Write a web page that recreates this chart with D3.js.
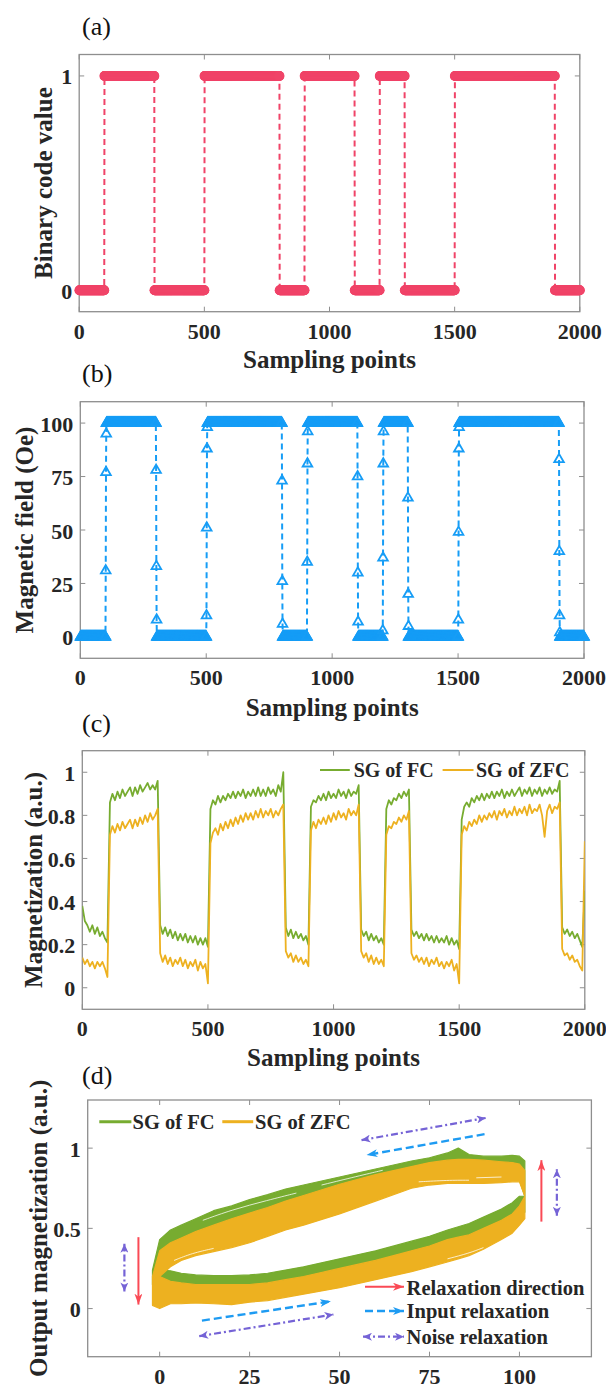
<!DOCTYPE html>
<html>
<head>
<meta charset="utf-8">
<script src="https://cdn.jsdelivr.net/npm/d3@7"></script>
<style>
  body { margin: 0; background: #fff; }
  svg { display: block; }
</style>
</head>
<body>
<svg id="fig" width="606" height="1390" font-family="'Liberation Serif', 'Times New Roman', Times, serif"></svg>
<script>
// ---------------- data ----------------
// (a) binary input code, one bit per block of 100 sampling points
const codeBits = [0,1,1,0,0,1,1,1,0,1,1,0,1,0,0,1,1,1,1,0];
const blockSize = 100;

// (b) applied field: plateau levels and the ramp samples at each switching event
const fieldHigh = 100;
const fieldLow = 0;
const fieldRamps = [
  [31, 77, 95],
  [78, 33, 8],
  [10, 51, 88, 98],
  [73, 26, 6],
  [35, 81, 96],
  [75, 30, 7],
  [3, 37, 81, 96],
  [65, 20, 5],
  [8, 49, 88, 98],
  [83, 40, 10, 2]
];

// (c) magnetization traces, one value every 10 sampling points (0..2000)
const magStep = 10;
const magFC = [
  0.38,0.31,0.29,0.26,0.29,0.25,0.28,0.24,0.26,0.23,0.21,
  0.86,0.90,0.87,0.91,0.88,0.92,0.89,0.91,0.93,0.89,0.93,0.90,0.94,0.91,0.93,0.95,0.92,0.94,0.92,0.96,
  0.29,0.25,0.28,0.24,0.27,0.23,0.26,0.22,0.25,0.22,0.25,0.21,0.24,0.21,0.24,0.20,0.23,0.20,0.23,0.19,
  0.83,0.87,0.85,0.89,0.86,0.89,0.87,0.90,0.88,0.91,0.88,0.91,0.89,0.92,0.88,0.91,0.89,0.92,0.89,0.93,
  0.89,0.92,0.89,0.93,0.90,0.92,0.89,0.94,0.91,1.00,
  0.28,0.24,0.27,0.23,0.26,0.23,0.25,0.22,0.24,0.20,
  0.84,0.87,0.86,0.89,0.87,0.90,0.87,0.91,0.88,0.90,0.88,0.92,0.89,0.91,0.88,0.92,0.89,0.91,0.90,0.94,
  0.27,0.24,0.26,0.22,0.25,0.22,0.24,0.21,0.23,0.20,
  0.83,0.87,0.85,0.88,0.87,0.90,0.88,0.91,0.89,0.92,
  0.27,0.24,0.26,0.23,0.25,0.22,0.25,0.22,0.24,0.21,0.24,0.21,0.23,0.21,0.24,0.20,0.23,0.20,0.22,0.18,
  0.78,0.84,0.86,0.84,0.88,0.86,0.89,0.87,0.90,0.87,0.90,0.88,0.91,0.88,0.91,0.89,0.92,0.88,0.91,0.89,
  0.92,0.89,0.91,0.93,0.89,0.92,0.90,0.93,0.89,0.92,0.90,0.93,0.89,0.92,0.90,0.93,0.90,0.92,0.91,0.96,
  0.28,0.25,0.27,0.24,0.26,0.23,0.25,0.22,0.19,0.45
];
const magZFC = [
  0.14,0.11,0.13,0.10,0.12,0.09,0.12,0.10,0.12,0.09,0.05,
  0.71,0.75,0.72,0.76,0.73,0.77,0.74,0.76,0.78,0.74,0.78,0.75,0.79,0.76,0.80,0.77,0.81,0.78,0.80,0.83,
  0.16,0.12,0.15,0.11,0.14,0.10,0.13,0.11,0.14,0.10,0.13,0.09,0.12,0.10,0.13,0.08,0.12,0.09,0.11,0.02,
  0.67,0.72,0.74,0.71,0.76,0.73,0.77,0.74,0.78,0.75,0.79,0.76,0.80,0.77,0.81,0.78,0.81,0.78,0.82,0.79,
  0.83,0.79,0.82,0.80,0.83,0.79,0.82,0.80,0.83,0.85,
  0.17,0.14,0.16,0.12,0.15,0.12,0.14,0.11,0.13,0.10,
  0.73,0.77,0.74,0.78,0.76,0.79,0.76,0.80,0.77,0.81,0.78,0.82,0.79,0.81,0.78,0.83,0.80,0.82,0.80,0.85,
  0.17,0.14,0.16,0.12,0.15,0.11,0.14,0.11,0.13,0.10,
  0.71,0.75,0.74,0.77,0.76,0.79,0.77,0.80,0.78,0.82,
  0.16,0.13,0.15,0.12,0.14,0.11,0.14,0.10,0.13,0.11,0.14,0.10,0.12,0.09,0.12,0.10,0.13,0.08,0.11,0.02,
  0.71,0.75,0.73,0.77,0.75,0.78,0.76,0.80,0.77,0.80,0.78,0.81,0.79,0.82,0.78,0.82,0.80,0.83,0.79,0.82,
  0.80,0.84,0.80,0.83,0.81,0.84,0.80,0.85,0.81,0.83,0.82,0.85,0.80,0.70,0.82,0.85,0.81,0.84,0.83,0.86,
  0.18,0.15,0.16,0.13,0.15,0.12,0.13,0.10,0.08,0.68
];

// (d) envelopes of the output-vs-input loops (upper/lower branch edges)
const loopField = [-2, 0, 3, 6, 10, 15, 20, 25, 30, 35, 40, 50, 60, 70, 75, 80, 83, 86, 90, 95, 98, 100, 101.5];
const fcUpperOuter = [0.24,0.43,0.49,0.52,0.56,0.61,0.64,0.68,0.71,0.745,0.77,0.82,0.87,0.92,0.94,0.97,1.00,0.96,0.95,0.95,0.955,0.95,0.92];
const fcUpperInner = [0.22,0.24,0.30,0.34,0.37,0.40,0.42,0.45,0.49,0.52,0.55,0.62,0.70,0.78,0.80,0.81,0.81,0.81,0.81,0.81,0.81,0.80,0.70];
const fcLowerInner = [0.22,0.24,0.235,0.22,0.21,0.205,0.205,0.21,0.22,0.24,0.26,0.31,0.36,0.42,0.45,0.49,0.51,0.53,0.57,0.62,0.66,0.70,0.70];
const fcLowerOuter = [0.15,0.14,0.13,0.13,0.13,0.13,0.13,0.13,0.14,0.16,0.19,0.24,0.29,0.34,0.37,0.40,0.42,0.44,0.47,0.52,0.55,0.58,0.60];
const zfcUpperOuter = [0.20,0.36,0.41,0.44,0.48,0.52,0.56,0.595,0.63,0.67,0.705,0.775,0.835,0.885,0.91,0.925,0.93,0.93,0.925,0.915,0.91,0.90,0.86];
const zfcUpperInner = [0.18,0.20,0.26,0.30,0.33,0.355,0.38,0.41,0.45,0.49,0.52,0.59,0.67,0.75,0.77,0.78,0.78,0.78,0.78,0.785,0.79,0.79,0.70];
const zfcLowerInner = [0.18,0.20,0.17,0.16,0.15,0.15,0.15,0.15,0.16,0.18,0.20,0.25,0.30,0.36,0.39,0.43,0.445,0.46,0.50,0.55,0.59,0.64,0.70];
const zfcLowerOuter = [0.02,0.00,0.03,0.03,0.035,0.03,0.025,0.04,0.05,0.07,0.09,0.13,0.18,0.23,0.26,0.29,0.31,0.33,0.37,0.43,0.47,0.52,0.56];
// thin gaps between individual cycles inside the bands
const loopGaps = [
  [[12, 0.55], [20, 0.615], [30, 0.675], [38, 0.72]],
  [[45, 0.77], [55, 0.825], [62, 0.862]],
  [[72, 0.79], [80, 0.80], [86, 0.80]],
  [[88, 0.815], [95, 0.82]],
  [[80, 0.31], [86, 0.345], [90, 0.38]],
  [[4, 0.30], [9, 0.345], [15, 0.375]]
];

// (d) annotation arrows [x1, y1, x2, y2] in data units
const relaxArrows = [[106.1, 0.542, 106.1, 0.925], [-5.9, 0.445, -5.9, 0.025]];
const inputArrows = [[90.3, 1.087, 57.5, 0.957], [11.75, -0.075, 47.6, 0.045]];
const noiseArrows = [[56.1, 1.05, 90.6, 1.188], [110.4, 0.578, 110.4, 0.868], [-9.8, 0.107, -9.8, 0.404], [11.0, -0.172, 48.3, -0.037]];

// ticks
const timeTicks = [0, 500, 1000, 1500, 2000];
const codeTicks = [0, 1];
const fieldTicks = [0, 25, 50, 75, 100];
const magTicks = [0, 0.2, 0.4, 0.6, 0.8, 1];
const loopXTicks = [0, 25, 50, 75, 100];
const loopYTicks = [0, 0.5, 1];

const seriesNames = ["SG of FC", "SG of ZFC"];
const annotationNames = ["Relaxation direction", "Input relaxation", "Noise relaxation"];

// ---------------- styling ----------------
const C = {
  code: "#F04468",
  field: "#169DF6",
  fc: "#77AC30",
  zfc: "#EDB120",
  red: "#FA4A55",
  blue: "#1E9BF2",
  purple: "#7563D6",
  axis: "#8e8e8e",
  text: "#262626"
};
const FONT = "'Liberation Serif', 'Times New Roman', Times, serif";

const svg = d3.select("#fig");
const defs = svg.append("defs");

function txt(sel) {
  return sel.attr("font-family", FONT);
}

function arrowHead(id, color, len, wid) {
  defs.append("marker")
    .attr("id", id)
    .attr("viewBox", `0 0 ${len} ${wid}`)
    .attr("refX", len).attr("refY", wid / 2)
    .attr("markerWidth", len).attr("markerHeight", wid)
    .attr("markerUnits", "userSpaceOnUse")
    .attr("orient", "auto-start-reverse")
    .append("path")
    .attr("d", `M0,0 L${len},${wid / 2} L0,${wid} L${len * 0.28},${wid / 2} Z`)
    .attr("fill", color);
}
arrowHead("hRed", C.red, 11, 8);
arrowHead("hBlue", C.blue, 11, 8);
arrowHead("hPurple", C.purple, 9, 8);

// frame with box, inward ticks on all four sides and bold tick labels
function frame(p, xs, ys, xt, yt, yfmt) {
  const g = svg.append("g");
  g.append("rect")
    .attr("x", p.l).attr("y", p.t)
    .attr("width", p.r - p.l).attr("height", p.b - p.t)
    .attr("fill", "none").attr("stroke", C.axis).attr("stroke-width", 1.3);
  const tl = 5;
  xt.forEach(v => {
    const x = xs(v);
    g.append("line").attr("x1", x).attr("x2", x).attr("y1", p.b).attr("y2", p.b - tl).attr("stroke", C.axis);
    g.append("line").attr("x1", x).attr("x2", x).attr("y1", p.t).attr("y2", p.t + tl).attr("stroke", C.axis);
    txt(g.append("text")).attr("x", x).attr("y", p.b + 27)
      .attr("text-anchor", "middle").attr("font-size", 22).attr("font-weight", "bold")
      .attr("fill", C.text).text(v);
  });
  yt.forEach(v => {
    const y = ys(v);
    g.append("line").attr("x1", p.l).attr("x2", p.l + tl).attr("y1", y).attr("y2", y).attr("stroke", C.axis);
    g.append("line").attr("x1", p.r).attr("x2", p.r - tl).attr("y1", y).attr("y2", y).attr("stroke", C.axis);
    txt(g.append("text")).attr("x", p.l - 7).attr("y", y + 8.5)
      .attr("text-anchor", "end").attr("font-size", 22).attr("font-weight", "bold")
      .attr("fill", C.text).text(yfmt(v));
  });
  return g;
}

function yTitle(p, x, label) {
  txt(svg.append("text"))
    .attr("transform", `translate(${x},${(p.t + p.b) / 2}) rotate(-90)`)
    .attr("text-anchor", "middle").attr("font-size", 25).attr("font-weight", "bold")
    .attr("fill", C.text).text(label);
}
function xTitle(p, y, label) {
  txt(svg.append("text"))
    .attr("x", (p.l + p.r) / 2).attr("y", y)
    .attr("text-anchor", "middle").attr("font-size", 25).attr("font-weight", "bold")
    .attr("fill", C.text).text(label);
}
function panelTag(x, y, label) {
  txt(svg.append("text")).attr("x", x).attr("y", y)
    .attr("font-size", 26).attr("fill", "#111").text(label);
}
function clipFor(id, p) {
  defs.append("clipPath").attr("id", id).append("rect")
    .attr("x", p.l).attr("y", p.t).attr("width", p.r - p.l).attr("height", p.b - p.t);
  return `url(#${id})`;
}

const num = v => String(+v.toFixed(2));

// ---------------- derived sample series ----------------
const sampleIdx = d3.range(1, codeBits.length * blockSize + 1);
const codeSeries = sampleIdx.map(i => ({ x: i, y: codeBits[Math.floor((i - 1) / blockSize)] }));

const fieldSeries = [];
{
  let r = 0;
  codeBits.forEach((b, k) => {
    const level = b ? fieldHigh : fieldLow;
    const ramp = (k > 0 && b !== codeBits[k - 1]) ? fieldRamps[r++] : [];
    for (let j = 0; j < blockSize; j++) {
      fieldSeries.push({ x: k * blockSize + j + 1, y: j < ramp.length ? ramp[j] : level });
    }
  });
}

// ---------------- (a) ----------------
const PA = { l: 79.2, r: 579.8, t: 54.5, b: 311.7 };
const xA = d3.scaleLinear().domain([0, 2000]).range([PA.l, PA.r]);
const yA = d3.scaleLinear().domain([-0.1, 1.1]).range([PA.b, PA.t]);
frame(PA, xA, yA, timeTicks, codeTicks, num);
svg.append("path").datum(codeSeries)
  .attr("d", d3.line().x(d => xA(d.x)).y(d => yA(d.y)))
  .attr("fill", "none").attr("stroke", C.code).attr("stroke-width", 2)
  .attr("stroke-dasharray", "6,4");
svg.append("g").selectAll("circle").data(codeSeries).join("circle")
  .attr("cx", d => xA(d.x)).attr("cy", d => yA(d.y)).attr("r", 5)
  .attr("fill", C.code);
yTitle(PA, 52, "Binary code value");
xTitle(PA, 368, "Sampling points");
panelTag(82, 35, "(a)");

// ---------------- (b) ----------------
const PB = { l: 80.3, r: 584, t: 401.7, b: 658.3 };
const xB = d3.scaleLinear().domain([0, 2000]).range([PB.l, PB.r]);
const yB = d3.scaleLinear().domain([-10, 110]).range([PB.b, PB.t]);
frame(PB, xB, yB, timeTicks, fieldTicks, num);
svg.append("path").datum(fieldSeries)
  .attr("d", d3.line().x(d => xB(d.x)).y(d => yB(d.y)))
  .attr("fill", "none").attr("stroke", C.field).attr("stroke-width", 2)
  .attr("stroke-dasharray", "6,4");
const tri = d3.symbol().type(d3.symbolTriangle).size(40)();
svg.append("g").selectAll("path").data(fieldSeries).join("path")
  .attr("transform", d => `translate(${xB(d.x)},${yB(d.y)})`)
  .attr("d", tri).attr("fill", "none").attr("stroke", C.field).attr("stroke-width", 1.8);
yTitle(PB, 33, "Magnetic field (Oe)");
xTitle(PB, 716, "Sampling points");
panelTag(82, 382, "(b)");

// ---------------- (c) ----------------
const PC = { l: 82.3, r: 584.8, t: 750.7, b: 1009.3 };
const xC = d3.scaleLinear().domain([0, 2000]).range([PC.l, PC.r]);
const yC = d3.scaleLinear().domain([-0.1, 1.1]).range([PC.b, PC.t]);
frame(PC, xC, yC, timeTicks, magTicks, num);
const clipC = clipFor("clipC", PC);
const magLine = d3.line().x((d, i) => xC(i * magStep)).y(d => yC(d));
[[magFC, C.fc], [magZFC, C.zfc]].forEach(([s, col]) => {
  svg.append("path").datum(s).attr("clip-path", clipC)
    .attr("d", magLine).attr("fill", "none").attr("stroke", col)
    .attr("stroke-width", 1.8).attr("stroke-linejoin", "round");
});
// legend
[[320, 349.8, 353.7, C.fc, seriesNames[0]], [442.6, 473.5, 476, C.zfc, seriesNames[1]]].forEach(([a, b, t, col, name]) => {
  svg.append("line").attr("x1", a).attr("x2", b).attr("y1", 770).attr("y2", 770)
    .attr("stroke", col).attr("stroke-width", 2);
  txt(svg.append("text")).attr("x", t).attr("y", 777).attr("font-size", 20).attr("font-weight", "bold")
    .attr("fill", C.text).text(name);
});
yTitle(PC, 42, "Magnetization (a.u.)");
xTitle(PC, 1066, "Sampling points");
panelTag(82, 732, "(c)");

// ---------------- (d) ----------------
const PD = { l: 87.7, r: 591.4, t: 1100, b: 1356.7 };
const xD = d3.scaleLinear().domain([-20, 120]).range([PD.l, PD.r]);
const yD = d3.scaleLinear().domain([-0.3, 1.3]).range([PD.b, PD.t]);
frame(PD, xD, yD, loopXTicks, loopYTicks, num);
const clipD = clipFor("clipD", PD);

const ptLine = d3.line().x(d => xD(d[0])).y(d => yD(d[1]));
function ringPath(upperOuter, lowerOuter, upperInner, lowerInner) {
  const outer = loopField.map((x, i) => [x, upperOuter[i]])
    .concat(loopField.map((x, i) => [x, lowerOuter[i]]).reverse());
  const inner = loopField.map((x, i) => [x, upperInner[i]])
    .concat(loopField.map((x, i) => [x, lowerInner[i]]).reverse());
  return ptLine(outer) + "Z" + ptLine(inner) + "Z";
}
const loopG = svg.append("g").attr("clip-path", clipD);
[[fcUpperOuter, fcLowerOuter, fcUpperInner, fcLowerInner, C.fc],
 [zfcUpperOuter, zfcLowerOuter, zfcUpperInner, zfcLowerInner, C.zfc]].forEach(([uo, lo, ui, li, col]) => {
  loopG.append("path")
    .attr("d", ringPath(uo, lo, ui, li))
    .attr("fill", col).attr("fill-rule", "evenodd")
    .attr("stroke", col).attr("stroke-width", 1.2).attr("stroke-linejoin", "round");
});
loopG.selectAll("path.gap").data(loopGaps).join("path").attr("class", "gap")
  .attr("d", d3.line().x(d => xD(d[0])).y(d => yD(d[1])).curve(d3.curveBasis))
  .attr("fill", "none").attr("stroke", "#fff").attr("stroke-width", 0.9).attr("stroke-opacity", 0.85);

// relaxation arrows
const annG = svg.append("g");
function drawArrows(list, col, dash, width, head, both) {
  list.forEach(a => {
    const l = annG.append("line")
      .attr("x1", xD(a[0])).attr("y1", yD(a[1]))
      .attr("x2", xD(a[2])).attr("y2", yD(a[3]))
      .attr("stroke", col).attr("stroke-width", width)
      .attr("marker-end", `url(#${head})`);
    if (dash) l.attr("stroke-dasharray", dash);
    if (both) l.attr("marker-start", `url(#${head})`);
  });
}
drawArrows(relaxArrows, C.red, null, 2, "hRed", false);
drawArrows(inputArrows, C.blue, "8,4", 2.4, "hBlue", false);
drawArrows(noiseArrows, C.purple, "7,3,2,3", 2.2, "hPurple", true);

// series legend
[[99.3, 131.4, 132.6, C.fc, seriesNames[0]], [222.3, 253.2, 255, C.zfc, seriesNames[1]]].forEach(([a, b, t, col, name]) => {
  svg.append("line").attr("x1", a).attr("x2", b).attr("y1", 1121.7).attr("y2", 1121.7)
    .attr("stroke", col).attr("stroke-width", 3);
  txt(svg.append("text")).attr("x", t).attr("y", 1129).attr("font-size", 20.5).attr("font-weight", "bold")
    .attr("fill", C.text).text(name);
});
// arrow legend
const arrowKeys = [
  { y: 1286.7, base: 1295, col: C.red, dash: null, w: 2, head: "hRed", both: false, x1: 365 },
  { y: 1311, base: 1318, col: C.blue, dash: "8,4", w: 2.4, head: "hBlue", both: false, x1: 365 },
  { y: 1336.7, base: 1344, col: C.purple, dash: "7,3,2,3", w: 2.2, head: "hPurple", both: true, x1: 363 }
];
arrowKeys.forEach((k, i) => {
  const l = svg.append("line").attr("x1", k.x1).attr("x2", 404).attr("y1", k.y).attr("y2", k.y)
    .attr("stroke", k.col).attr("stroke-width", k.w).attr("marker-end", `url(#${k.head})`);
  if (k.dash) l.attr("stroke-dasharray", k.dash);
  if (k.both) l.attr("marker-start", `url(#${k.head})`);
  txt(svg.append("text")).attr("x", 406.6).attr("y", k.base).attr("font-size", 20.5).attr("font-weight", "bold")
    .attr("fill", C.text).text(annotationNames[i]);
});
yTitle(PD, 47, "Output magnetization (a.u.)");
panelTag(82, 1084, "(d)");

if (magFC.length !== 201 || magZFC.length !== 201) {
  throw new Error("trace length " + magFC.length + " / " + magZFC.length);
}
</script>
</body>
</html>
